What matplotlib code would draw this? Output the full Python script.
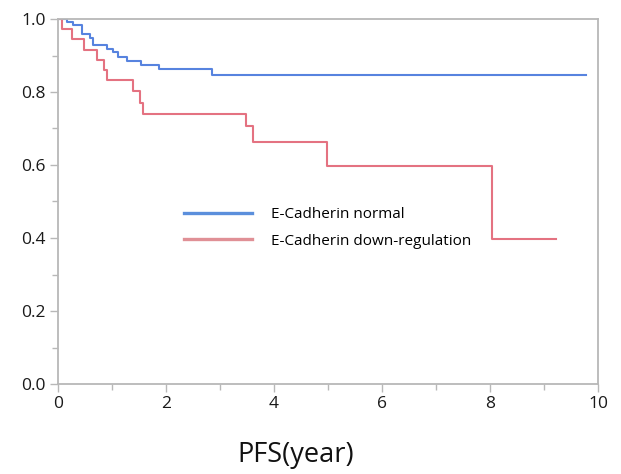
"""
Kaplan-Meier style PFS curves: E-Cadherin normal vs down-regulation.
Output: out.png
"""
import matplotlib
matplotlib.use("Agg")
import matplotlib.pyplot as plt
from matplotlib.lines import Line2D
from matplotlib.ticker import MultipleLocator

# step times (years) and survival after each step
normal_t = [0.0, 0.17, 0.28, 0.44, 0.60, 0.65, 0.90, 1.01, 1.11, 1.27, 1.54, 1.87, 2.86, 9.77]
normal_s = [1.0, 0.993, 0.984, 0.958, 0.949, 0.929, 0.917, 0.909, 0.895, 0.886, 0.875, 0.863, 0.846, 0.846]

down_t = [0.0, 0.08, 0.25, 0.48, 0.72, 0.86, 0.90, 1.38, 1.51, 1.57, 3.49, 3.61, 4.99, 8.03, 9.23]
down_s = [1.0, 0.972, 0.944, 0.915, 0.888, 0.859, 0.832, 0.802, 0.770, 0.740, 0.706, 0.663, 0.598, 0.398, 0.398]

labels = ["E-Cadherin normal", "E-Cadherin down-regulation"]
x_label = "PFS(year)"

BLUE = "#4576dc"
RED = "#e0596b"
GRID = "#b8b8b8"

fig = plt.figure(figsize=(6.21, 4.74), dpi=100)
ax = fig.add_axes([58 / 621, 1 - 384 / 474, 540 / 621, 365 / 474])

ax.step(normal_t, normal_s, where="post", color=BLUE, lw=1.5, alpha=0.9)
ax.step(down_t, down_s, where="post", color=RED, lw=1.5, alpha=0.85)

ax.set_xlim(0, 10)
ax.set_ylim(0, 1.0)
ax.xaxis.set_major_locator(MultipleLocator(2))
ax.xaxis.set_minor_locator(MultipleLocator(1))
ax.yaxis.set_major_locator(MultipleLocator(0.2))
ax.yaxis.set_minor_locator(MultipleLocator(0.1))
ax.yaxis.set_major_formatter(matplotlib.ticker.FormatStrFormatter("%.1f"))

for sp in ax.spines.values():
    sp.set_color(GRID)
    sp.set_linewidth(1.3)
ax.tick_params(which="major", length=6, width=1, color=GRID, labelsize=12.5,
               labelcolor="#1a1a1a", pad=3)
ax.tick_params(which="minor", length=4, width=1, color=GRID)
for lab in ax.get_xticklabels() + ax.get_yticklabels():
    lab.set_family(["Open Sans", "DejaVu Sans"])

handles = [Line2D([], [], color="#5b8fdc", lw=2.4),
           Line2D([], [], color="#e09096", lw=2.4)]
ax.legend(handles, labels, loc="upper left", bbox_to_anchor=(0.207, 0.522),
          frameon=False, handlelength=4.45, handletextpad=1.3, labelspacing=0.75,
          prop={"family": "Open Sans", "size": 11})

fig.text(296 / 621, 1 - 455 / 474, x_label, ha="center", va="center",
         fontsize=19.5, family="Open Sans", color="#111111")

fig.savefig("out.png", dpi=100)
